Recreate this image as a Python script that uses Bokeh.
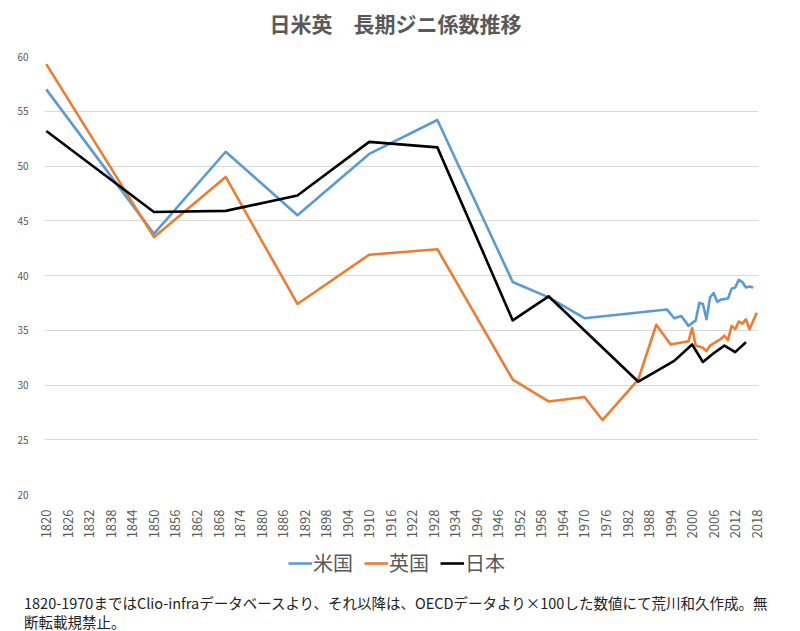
import math
from bokeh.plotting import figure
from bokeh.layouts import column
from bokeh.models import Legend, LegendItem, FixedTicker, Label, Div
from bokeh.embed import file_html
from bokeh.resources import INLINE

FONT = "Noto Sans CJK JP"

title_text = "日米英　長期ジニ係数推移"
footnote_1 = "1820-1970まではClio-infraデータベースより、それ以降は、OECDデータより×100した数値にて荒川和久作成。無"
footnote_2 = "断転載規禁止。"

series_names = ["米国", "英国", "日本"]
series_colors = ["#5B9BD5", "#ED7D31", "#000000"]

us_years = [1820, 1850, 1870, 1890, 1910, 1929, 1950, 1960, 1970, 1993, 1995, 1997,
            1999, 2001, 2002, 2003, 2004, 2005, 2006, 2007, 2008, 2010, 2011, 2012,
            2013, 2014, 2015, 2016, 2017]
us_gini = [57.0, 43.8, 51.3, 45.5, 51.1, 54.2, 39.4, 38.0, 36.1, 36.9, 36.1, 36.3,
           35.4, 35.9, 37.5, 37.4, 36.0, 38.0, 38.4, 37.6, 37.8, 37.9, 38.8, 38.9,
           39.6, 39.4, 38.9, 39.0, 38.9]

uk_years = [1820, 1850, 1870, 1890, 1910, 1929, 1950, 1960, 1970, 1975, 1985, 1990,
            1994, 1999, 2000, 2001, 2003, 2004, 2005, 2007, 2008, 2009, 2010, 2011,
            2012, 2013, 2014, 2015, 2016, 2018]
uk_gini = [59.3, 43.5, 49.0, 37.4, 41.9, 42.4, 30.5, 28.5, 28.9, 26.8, 30.5, 35.5,
           33.7, 34.0, 35.2, 33.6, 33.4, 33.1, 33.6, 34.0, 34.2, 34.5, 34.1, 35.4,
           35.1, 35.8, 35.6, 36.0, 35.1, 36.6]

jp_years = [1820, 1850, 1870, 1890, 1910, 1929, 1950, 1960, 1985, 1995, 2000, 2003,
            2006, 2009, 2012, 2015]
jp_gini = [53.2, 45.8, 45.9, 47.3, 52.2, 51.7, 35.9, 38.1, 30.3, 32.2, 33.7, 32.1,
           32.9, 33.6, 33.0, 33.9]

x_ticks = list(range(1820, 2019, 6))
y_ticks = [20, 25, 30, 35, 40, 45, 50, 55, 60]

LEFT, RIGHT = 44, 42


def blank_panel(height):
    f = figure(width=800, height=height, x_range=(LEFT, 800 - RIGHT), y_range=(height, 0),
               x_axis_type=None, y_axis_type=None, min_border=0,
               min_border_left=LEFT, min_border_right=RIGHT,
               output_backend="svg", toolbar_location=None)
    f.outline_line_color = None
    f.grid.visible = False
    f.background_fill_color = "white"
    f.border_fill_color = "white"
    return f


# ---- header (title) ----
head = blank_panel(48)
head.add_layout(Label(x=395, y=22, text=title_text, text_align="center",
                      text_baseline="middle", text_font=FONT, text_font_size="21px",
                      text_font_style="bold", text_color="#595959"))

# ---- main chart ----
p = figure(width=800, height=493, x_range=(1819.5, 2018.5), y_range=(20, 60),
           min_border_left=LEFT, min_border_right=RIGHT, min_border_top=8, min_border_bottom=44,
           output_backend="svg", toolbar_location=None)
p.outline_line_color = None
p.background_fill_color = "white"
p.border_fill_color = "white"
p.xgrid.visible = False
p.ygrid.grid_line_color = "#d9d9d9"
p.ygrid.grid_line_width = 1

for ax in (p.xaxis[0], p.yaxis[0]):
    ax.axis_line_color = None
    ax.major_tick_line_color = None
    ax.minor_tick_line_color = None
    ax.major_label_text_color = "#595959"
    ax.major_label_text_font = FONT

p.xaxis.ticker = FixedTicker(ticks=x_ticks)
p.xaxis.major_label_orientation = math.pi / 2
p.xaxis.major_label_text_font_size = "13px"
p.xaxis.major_label_standoff = 9
p.yaxis.ticker = FixedTicker(ticks=y_ticks)
p.yaxis.major_label_text_font_size = "10px"
p.yaxis.major_label_standoff = 10

all_years = [us_years, uk_years, jp_years]
all_gini = [us_gini, uk_gini, jp_gini]

for color, xs, ys in zip(series_colors, all_years, all_gini):
    p.line(x=xs, y=ys, line_color=color, line_width=2.6, line_join="round")

# ---- legend strip (same series, out of this strip's visible range) ----
leg = blank_panel(42)
items = []
for name, color, xs, ys in zip(series_names, series_colors, all_years, all_gini):
    proxy = leg.line(x=xs, y=ys, line_color=color, line_width=2.6)
    items.append(LegendItem(label=name, renderers=[proxy]))
legend = Legend(items=items, orientation="horizontal", location=(244, 6),
                label_text_font=FONT, label_text_font_size="20px", label_text_color="#595959",
                glyph_width=24, glyph_height=24, label_height=24, label_standoff=1,
                spacing=11, padding=0, margin=0, border_line_color=None,
                background_fill_alpha=0)
leg.add_layout(legend, "center")

# ---- footnote ----
note = Div(text=('<div style="padding:10px 0 0 24px; font-family:\'Noto Sans CJK JP\'; '
                 'font-size:14.5px; line-height:19px; color:#222222; white-space:nowrap;">'
                 + footnote_1 + "<br>" + footnote_2 + "</div>"),
           width=800, height=48, margin=0)

layout = column(head, p, leg, note, spacing=0)
open("out.html", "w").write(file_html(layout, INLINE))
